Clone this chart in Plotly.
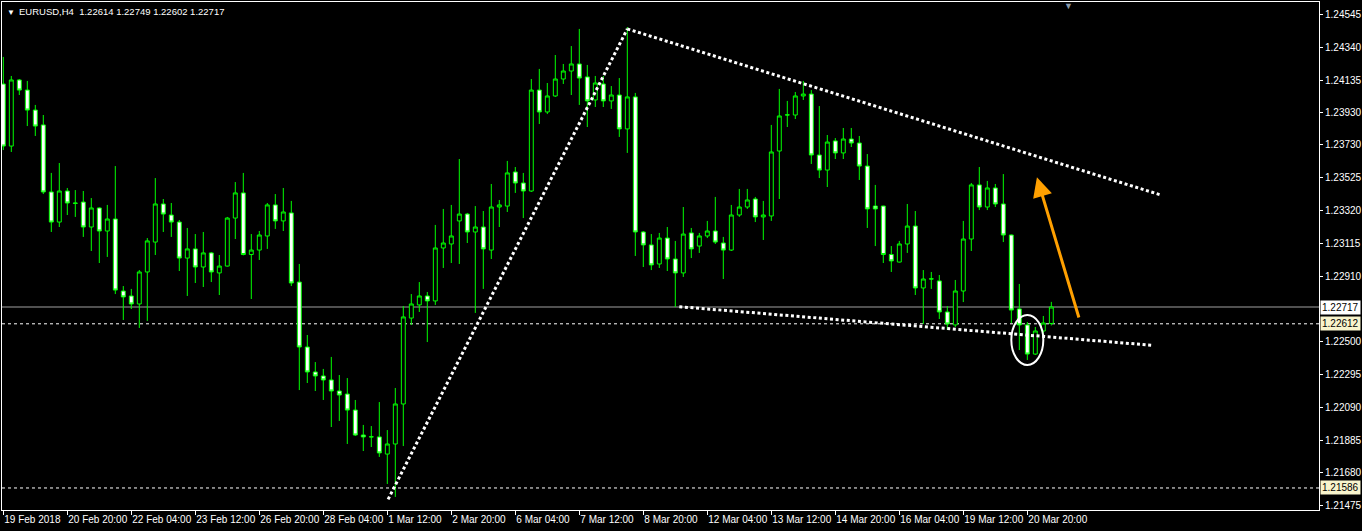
import plotly.graph_objects as go

# ---------------- data (EURUSD H4) ----------------
opens = [1.24111, 1.23723, 1.24136, 1.24073, 1.23948, 1.23855, 1.23436, 1.23248, 1.23442, 1.23367,
         1.23373, 1.23217, 1.23336, 1.23192, 1.23267, 1.22817, 1.22786, 1.22736, 1.22936, 1.23123,
         1.23361, 1.23292, 1.23248, 1.23023, 1.23080, 1.22967, 1.23055, 1.22930, 1.22973, 1.23273,
         1.23430, 1.23045, 1.23073, 1.23161, 1.23355, 1.23255, 1.23305, 1.22873, 1.22467, 1.22311,
         1.22286, 1.22261, 1.22192, 1.22173, 1.22073, 1.21917, 1.21905, 1.21905, 1.21798, 1.21861,
         1.22111, 1.22648, 1.22730, 1.22786, 1.22755, 1.23086, 1.23111, 1.23255, 1.23298, 1.23186,
         1.23217, 1.23073, 1.23342, 1.23348, 1.23561, 1.23492, 1.23442, 1.24073, 1.23936, 1.24036,
         1.24142, 1.24192, 1.24236, 1.24155, 1.24011, 1.24111, 1.24005, 1.24042, 1.23830, 1.24030,
         1.23186, 1.23105, 1.22986, 1.23148, 1.23017, 1.22930, 1.23180, 1.23098, 1.23161, 1.23192,
         1.23117, 1.23073, 1.23292, 1.23342, 1.23392, 1.23280, 1.23286, 1.23692, 1.23917, 1.23917,
         1.24036, 1.24048, 1.23667, 1.23573, 1.23755, 1.23680, 1.23767, 1.23742, 1.23598, 1.23348,
         1.23348, 1.23045, 1.22998, 1.23111, 1.23223, 1.22836, 1.22892, 1.22880, 1.22686, 1.22605,
         1.22817, 1.23142, 1.23480, 1.23342, 1.23461, 1.23361, 1.23167, 1.22705, 1.22605, 1.22423,
         1.22567, 1.22614]
highs = [1.24280, 1.24161, 1.24142, 1.24130, 1.23980, 1.23917, 1.23555, 1.23617, 1.23461, 1.23448,
         1.23442, 1.23398, 1.23340, 1.23355, 1.23598, 1.22848, 1.22830, 1.22948, 1.23148, 1.23523,
         1.23392, 1.23367, 1.23261, 1.23211, 1.23173, 1.23186, 1.23061, 1.23042, 1.23280, 1.23498,
         1.23555, 1.23173, 1.23192, 1.23367, 1.23423, 1.23461, 1.23380, 1.22986, 1.22542, 1.22373,
         1.22330, 1.22405, 1.22292, 1.22273, 1.22136, 1.21980, 1.21973, 1.22123, 1.21948, 1.22211,
         1.22723, 1.22798, 1.22873, 1.22811, 1.23230, 1.23330, 1.23355, 1.23642, 1.23305, 1.23348,
         1.23317, 1.23486, 1.23386, 1.23630, 1.23592, 1.23555, 1.24142, 1.24205, 1.24117, 1.24292,
         1.24236, 1.24348, 1.24455, 1.24230, 1.24161, 1.24161, 1.24098, 1.24148, 1.24467, 1.24055,
         1.23192, 1.23173, 1.23180, 1.23217, 1.23130, 1.23342, 1.23211, 1.23180, 1.23255, 1.23405,
         1.23155, 1.23355, 1.23455, 1.23455, 1.23405, 1.23380, 1.23855, 1.24080, 1.24005, 1.24061,
         1.24130, 1.24073, 1.23973, 1.23792, 1.23773, 1.23836, 1.23836, 1.23786, 1.23673, 1.23480,
         1.23350, 1.23098, 1.23130, 1.23361, 1.23317, 1.22948, 1.22936, 1.22917, 1.22723, 1.22886,
         1.23255, 1.23492, 1.23592, 1.23505, 1.23486, 1.23548, 1.23170, 1.22861, 1.22623, 1.22592,
         1.22661, 1.22749]
lows = [1.23698, 1.23686, 1.24042, 1.23848, 1.23786, 1.23423, 1.23186, 1.23217, 1.23292, 1.23280,
        1.23155, 1.23067, 1.22992, 1.23030, 1.22798, 1.22636, 1.22705, 1.22586, 1.22630, 1.23042,
        1.23186, 1.23155, 1.22942, 1.22786, 1.22867, 1.22842, 1.22873, 1.22792, 1.22970, 1.23142,
        1.23040, 1.22767, 1.23011, 1.23080, 1.23205, 1.23192, 1.22848, 1.22198, 1.22242, 1.22192,
        1.22136, 1.21967, 1.22005, 1.21861, 1.21911, 1.21817, 1.21842, 1.21780, 1.21611, 1.21530,
        1.21848, 1.22605, 1.22686, 1.22498, 1.22730, 1.22961, 1.22992, 1.22986, 1.23117, 1.22680,
        1.22830, 1.23017, 1.23217, 1.23311, 1.23430, 1.23273, 1.23436, 1.23861, 1.23923, 1.24030,
        1.24111, 1.24042, 1.23980, 1.23842, 1.23967, 1.23967, 1.23955, 1.23780, 1.23680, 1.23036,
        1.22967, 1.22948, 1.22961, 1.22942, 1.22717, 1.22905, 1.23023, 1.23055, 1.23148, 1.23111,
        1.22892, 1.23067, 1.23280, 1.23330, 1.23248, 1.23136, 1.23255, 1.23392, 1.23842, 1.23892,
        1.24011, 1.23611, 1.23523, 1.23467, 1.23642, 1.23642, 1.23717, 1.23511, 1.23211, 1.23098,
        1.22992, 1.22936, 1.22995, 1.23055, 1.22792, 1.22611, 1.22830, 1.22642, 1.22573, 1.22592,
        1.22748, 1.23067, 1.23323, 1.23323, 1.23342, 1.23123, 1.22617, 1.22448, 1.22386, 1.22417,
        1.22536, 1.22602]
closes = [1.23723, 1.24136, 1.24073, 1.23948, 1.23848, 1.23436, 1.23248, 1.23442, 1.23367, 1.23365,
          1.23217, 1.23336, 1.23192, 1.23267, 1.22823, 1.22780, 1.22736, 1.22936, 1.23130, 1.23361,
          1.23298, 1.23248, 1.23023, 1.23080, 1.22967, 1.23055, 1.22936, 1.22973, 1.23273, 1.23430,
          1.23045, 1.23073, 1.23167, 1.23355, 1.23255, 1.23311, 1.22867, 1.22467, 1.22311, 1.22286,
          1.22261, 1.22192, 1.22167, 1.22073, 1.21917, 1.21905, 1.21906, 1.21805, 1.21861, 1.22111,
          1.22655, 1.22736, 1.22786, 1.22755, 1.23086, 1.23117, 1.23161, 1.23298, 1.23186, 1.23217,
          1.23080, 1.23342, 1.23355, 1.23555, 1.23492, 1.23442, 1.24073, 1.23936, 1.24036, 1.24142,
          1.24192, 1.24236, 1.24148, 1.24005, 1.24117, 1.24005, 1.24042, 1.23830, 1.24030, 1.23186,
          1.23105, 1.22980, 1.23148, 1.23017, 1.22930, 1.23173, 1.23080, 1.23161, 1.23192, 1.23123,
          1.23073, 1.23292, 1.23342, 1.23386, 1.23280, 1.23292, 1.23686, 1.23911, 1.23918, 1.24036,
          1.24048, 1.23667, 1.23573, 1.23748, 1.23680, 1.23767, 1.23742, 1.23598, 1.23330, 1.23330,
          1.23045, 1.23005, 1.23111, 1.23223, 1.22836, 1.22892, 1.22893, 1.22686, 1.22611, 1.22817,
          1.23142, 1.23480, 1.23342, 1.23461, 1.23361, 1.23167, 1.22698, 1.22605, 1.22423, 1.22567,
          1.22617, 1.22717]
bar_index = list(range(len(opens)))

tick_bars = [0, 8, 16, 24, 32, 40, 48, 56, 64, 72, 80, 88, 96, 104, 112, 120, 128]
tick_labels = ["19 Feb 2018", "20 Feb 20:00", "22 Feb 04:00", "23 Feb 12:00", "26 Feb 20:00",
               "28 Feb 04:00", "1 Mar 12:00", "2 Mar 20:00", "6 Mar 04:00", "7 Mar 12:00",
               "8 Mar 20:00", "12 Mar 04:00", "13 Mar 12:00", "14 Mar 20:00", "16 Mar 04:00",
               "19 Mar 12:00", "20 Mar 20:00"]
price_ticks = [1.24545, 1.24340, 1.24135, 1.23930, 1.23730, 1.23525, 1.23320, 1.23115, 1.22910,
               1.22500, 1.22295, 1.22090, 1.21885, 1.21680, 1.21475]
price_tick_labels = ["%.5f" % v for v in price_ticks]

symbol = "EURUSD,H4"
bid_price = closes[-1]
hlines = [1.22612, 1.21586]

# user-drawn objects: (bar index, price)
trend_up_x, trend_up_y = [48.1, 78.0], [1.21515, 1.24455]
trend_top_x, trend_top_y = [78.0, 144.7], [1.24455, 1.23417]
trend_low_x, trend_low_y = [84.5, 143.55], [1.22719, 1.22478]
ellipse_x, ellipse_y = [126.0, 130.0], [1.22355, 1.22667]
arrow_head = (129.2, 1.23528)
arrow_tail = (134.5, 1.22642)
shift_marker_bar = 133.1

FONT = "Liberation Sans"
GREEN = "#00FF00"

fig = go.Figure()
fig.add_trace(go.Candlestick(
    x=bar_index, open=opens, high=highs, low=lows, close=closes,
    increasing=dict(line=dict(color=GREEN, width=1), fillcolor="black"),
    decreasing=dict(line=dict(color=GREEN, width=1), fillcolor="white"),
    whiskerwidth=0, hoverinfo="skip", showlegend=False))

for xs, ys in [(trend_up_x, trend_up_y), (trend_top_x, trend_top_y), (trend_low_x, trend_low_y)]:
    fig.add_trace(go.Scatter(x=xs, y=ys, mode="lines", hoverinfo="skip", showlegend=False,
                             line=dict(color="white", width=3, dash="3px,2.6px")))

shapes = [
    dict(type="line", xref="paper", x0=0, x1=1, yref="y", y0=bid_price, y1=bid_price,
         line=dict(color="#A0A0A0", width=1), layer="below"),
]
for h in hlines:
    shapes.append(dict(type="line", xref="paper", x0=0, x1=1, yref="y", y0=h, y1=h,
                       line=dict(color="white", width=1, dash="3px,3px"), layer="below"))
shapes.append(dict(type="circle", xref="x", yref="y", x0=ellipse_x[0], x1=ellipse_x[1],
                   y0=ellipse_y[0], y1=ellipse_y[1], line=dict(color="white", width=2)))
fig.update_layout(shapes=shapes)

ann = []
ann.append(dict(xref="paper", yref="paper", x=0, y=1, xanchor="left", yanchor="top",
                xshift=3, yshift=-4, text="▼", showarrow=False,
                font=dict(color="white", size=8, family=FONT)))
ann.append(dict(xref="paper", yref="paper", x=0, y=1, xanchor="left", yanchor="top",
                xshift=15, yshift=-2,
                text=symbol + "&nbsp; " + " ".join("%.5f" % v for v in (opens[-1], highs[-1], lows[-1], closes[-1])),
                showarrow=False, font=dict(color="white", size=9.5, family=FONT)))
ann.append(dict(xref="x", yref="paper", x=shift_marker_bar, y=1, yanchor="top", yshift=3,
                text="▼", showarrow=False, font=dict(color="#8898AA", size=9, family=FONT)))
ann.append(dict(xref="paper", yref="y", x=1, y=bid_price, xanchor="left", xshift=1,
                text="%.5f" % bid_price, showarrow=False, bgcolor="white", borderpad=1,
                font=dict(color="black", size=10, family=FONT)))
for h in hlines:
    ann.append(dict(xref="paper", yref="y", x=1, y=h, xanchor="left", xshift=1,
                    text="%.5f" % h, showarrow=False, bgcolor="#F8F4CC", borderpad=1,
                    font=dict(color="black", size=10, family=FONT)))
ann.append(dict(xref="x", yref="y", x=arrow_head[0], y=arrow_head[1],
                axref="x", ayref="y", ax=arrow_tail[0], ay=arrow_tail[1],
                text="", showarrow=True, arrowhead=2, arrowsize=1.3, arrowwidth=3,
                arrowcolor="#FFA000", standoff=0))
fig.update_layout(annotations=ann)

fig.update_layout(
    width=1362, height=531,
    paper_bgcolor="black", plot_bgcolor="black",
    margin=dict(l=2, r=43, t=2, b=21, autoexpand=False),
    showlegend=False,
    xaxis=dict(range=[-0.1625, 164.46], rangeslider=dict(visible=False),
               showgrid=False, zeroline=False, showline=True, mirror=True,
               linecolor="white", linewidth=1, automargin=False,
               tickmode="array", tickvals=tick_bars, ticktext=tick_labels,
               ticks="outside", ticklen=4, tickcolor="white", tickwidth=1,
               tickangle=0, ticklabelposition="outside right",
               tickfont=dict(color="white", size=10, family=FONT)),
    yaxis=dict(side="right", range=[1.214483, 1.246233], automargin=False,
               showgrid=False, zeroline=False, showline=True, mirror=True,
               linecolor="white", linewidth=1,
               tickmode="array", tickvals=price_ticks, ticktext=price_tick_labels,
               ticks="outside", ticklen=3, tickcolor="white", tickwidth=1,
               tickfont=dict(color="white", size=10, family=FONT)),
)

fig.write_html("out.html", config={"displayModeBar": False},
               post_script="document.body.style.margin='0';document.body.style.overflow='hidden';document.body.style.background='black';")
